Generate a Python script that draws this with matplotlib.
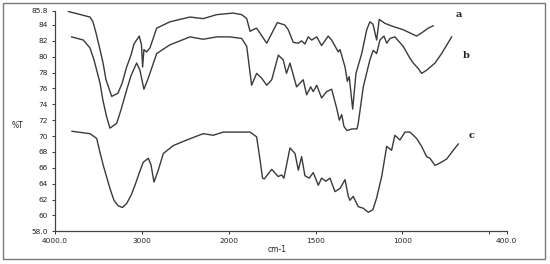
import numpy as np
import matplotlib
matplotlib.use('Agg')
import matplotlib.pyplot as plt
from matplotlib.patches import Rectangle

# spectrum a (top)
wn_a = [3847, 3597, 3563, 3528, 3482, 3448, 3413, 3347, 3275, 3229, 3175, 3125, 3091, 3030,
        3004, 2991, 2976, 2945, 2907, 2829, 2676, 2446, 2293, 2139, 1974, 1925, 1896, 1877,
        1860, 1839, 1781, 1720, 1677, 1657, 1628, 1599, 1580, 1561, 1542, 1522, 1493, 1465,
        1427, 1407, 1369, 1359, 1330, 1317, 1306, 1286, 1267, 1234, 1205, 1187, 1169, 1148,
        1133, 1100, 1052, 995, 918, 889, 851, 822]
t_a = [85.7, 85.0, 84.4, 83.0, 80.9, 79.3, 77.1, 75.0, 75.4, 76.6, 78.7, 80.2, 81.6, 82.6,
       81.5, 78.7, 80.9, 80.6, 81.1, 83.6, 84.4, 85.0, 84.8, 85.3, 85.5, 85.3, 84.8, 83.2,
       83.4, 83.6, 81.7, 84.3, 84.0, 83.4, 81.8, 81.7, 82.0, 81.6, 82.5, 82.1, 82.5, 81.4,
       82.6, 82.1, 80.6, 80.9, 78.7, 76.9, 77.5, 73.4, 77.9, 80.4, 83.4, 84.4, 84.1, 82.1,
       84.7, 84.2, 83.8, 83.4, 82.6, 83.0, 83.6, 83.9]

# spectrum b (middle)
wn_b = [3808, 3674, 3597, 3551, 3482, 3448, 3405, 3367, 3290, 3240, 3175, 3125, 3060, 3022,
        2976, 2926, 2829, 2676, 2446, 2293, 2139, 1993, 1925, 1896, 1868, 1839, 1810, 1781,
        1752, 1714, 1686, 1667, 1647, 1609, 1571, 1551, 1528, 1513, 1493, 1465, 1436, 1407,
        1378, 1363, 1349, 1336, 1319, 1290, 1261, 1254, 1225, 1187, 1168, 1148, 1129, 1106,
        1090, 1071, 1043, 995, 956, 937, 908, 889, 860, 812, 774, 716]
t_b = [82.5, 82.1, 81.1, 79.6, 76.7, 74.5, 72.4, 71.0, 71.6, 73.3, 75.8, 77.6, 79.2, 78.3,
       75.9, 77.3, 80.4, 81.5, 82.5, 82.2, 82.5, 82.5, 82.3, 81.3, 76.4, 77.9, 77.3, 76.4,
       77.1, 80.2, 79.6, 77.9, 79.2, 76.2, 77.1, 75.2, 76.2, 75.6, 76.4, 74.8, 75.6, 75.9,
       73.5, 72.0, 72.7, 71.2, 70.7, 70.9, 70.9, 71.6, 76.2, 79.6, 80.8, 80.4, 82.1, 82.6,
       81.7, 82.3, 82.5, 81.3, 79.8, 79.2, 78.5, 77.9, 78.3, 79.2, 80.4, 82.5]

# spectrum c (bottom)
wn_c = [3804, 3597, 3520, 3488, 3444, 3367, 3321, 3271, 3223, 3175, 3125, 3079, 3028, 2984,
        2926, 2895, 2860, 2811, 2753, 2638, 2484, 2293, 2178, 2063, 1877, 1839, 1820, 1805,
        1795, 1752, 1715, 1695, 1682, 1647, 1618, 1599, 1580, 1561, 1536, 1513, 1484, 1465,
        1440, 1417, 1388, 1359, 1330, 1311, 1302, 1283, 1254, 1225, 1196, 1170, 1148, 1119,
        1090, 1062, 1043, 1014, 985, 956, 918, 889, 860, 841, 812, 784, 745, 707, 678]
t_c = [70.6, 70.3, 69.7, 68.2, 66.3, 63.4, 61.9, 61.2, 61.0, 61.5, 62.5, 63.8, 65.4, 66.7,
       67.2, 66.4, 64.2, 65.7, 67.8, 68.8, 69.5, 70.3, 70.1, 70.5, 70.5, 69.9, 67.1, 64.7,
       64.6, 65.8, 64.9, 65.1, 64.7, 68.5, 67.8, 65.7, 67.4, 65.0, 64.7, 65.4, 63.8, 64.7,
       64.3, 64.7, 63.0, 63.4, 64.5, 62.4, 61.9, 62.4, 61.1, 60.9, 60.4, 60.7, 62.2, 64.9,
       68.7, 68.2, 70.1, 69.5, 70.5, 70.5, 69.7, 68.7, 67.4, 67.2, 66.3, 66.6, 67.1, 68.2, 69.0]

x_ticks = [4000, 3000, 2000, 1500, 1000, 500, 400]
x_labels = ['4000.0', '3000', '2000', '1500', '1000', '', '400.0']
y_ticks = [85.8, 84, 82, 80, 78, 76, 74, 72, 70, 68, 66, 64, 62, 60, 58.0]
y_labels = ['85.8', '84', '82', '80', '78', '76', '74', '72', '70', '68', '66', '64', '62', '60', '58.0']

curve_labels = ['a', 'b', 'c']
label_pos = [(674, 85.3), (634, 80.2), (601, 70.1)]


# IR style axis: region below 2000 cm-1 is stretched two times
def fwd(w):
    w = np.asarray(w, dtype=float)
    return np.where(w <= 2000, 2 * w, w + 2000)


def inv(x):
    x = np.asarray(x, dtype=float)
    return np.where(x <= 4000, x / 2, x - 2000)


fig = plt.figure(figsize=(5.5, 2.64), dpi=100)
ax = fig.add_axes([0.1, 0.124, 0.821, 0.8355])

ax.set_xscale('function', functions=(fwd, inv))
line_col = '#3a3a3a'
ax.plot(wn_a, t_a, color=line_col, lw=1.0)
ax.plot(wn_b, t_b, color=line_col, lw=1.0)
ax.plot(wn_c, t_c, color=line_col, lw=1.0)

ax.set_xlim(4000, 400)
ax.set_ylim(58.0, 85.8)
ax.set_xticks(x_ticks)
ax.set_xticklabels(x_labels)
ax.set_yticks(y_ticks)
ax.set_yticklabels(y_labels)
ax.minorticks_off()
ax.tick_params(axis='both', labelsize=5.3, length=2.5, width=0.7, pad=2.5,
               colors='#333333', labelcolor='#222222')

for s in ['top', 'right']:
    ax.spines[s].set_visible(False)
for s in ['left', 'bottom']:
    ax.spines[s].set_color('#444444')
    ax.spines[s].set_linewidth(0.9)

for lab, (xw, yt) in zip(curve_labels, label_pos):
    ax.text(xw, yt, lab, fontsize=7, family='DejaVu Serif', fontweight='bold',
            ha='center', va='center', color='#222222')

fig.text(17 / 550, 1 - 126 / 264, '%T', fontsize=5.5, ha='center', va='center', color='#222222')
fig.text(277 / 550, 1 - 250 / 264, 'cm-1', fontsize=5.5, ha='center', va='center', color='#222222')

# outer frame round the whole chart
fig.patches.append(Rectangle((3 / 550, 1 - 259 / 264), 542 / 550, 256 / 264,
                             transform=fig.transFigure, fill=False,
                             edgecolor='#777777', linewidth=1.0))

fig.savefig('out.png', dpi=100)
